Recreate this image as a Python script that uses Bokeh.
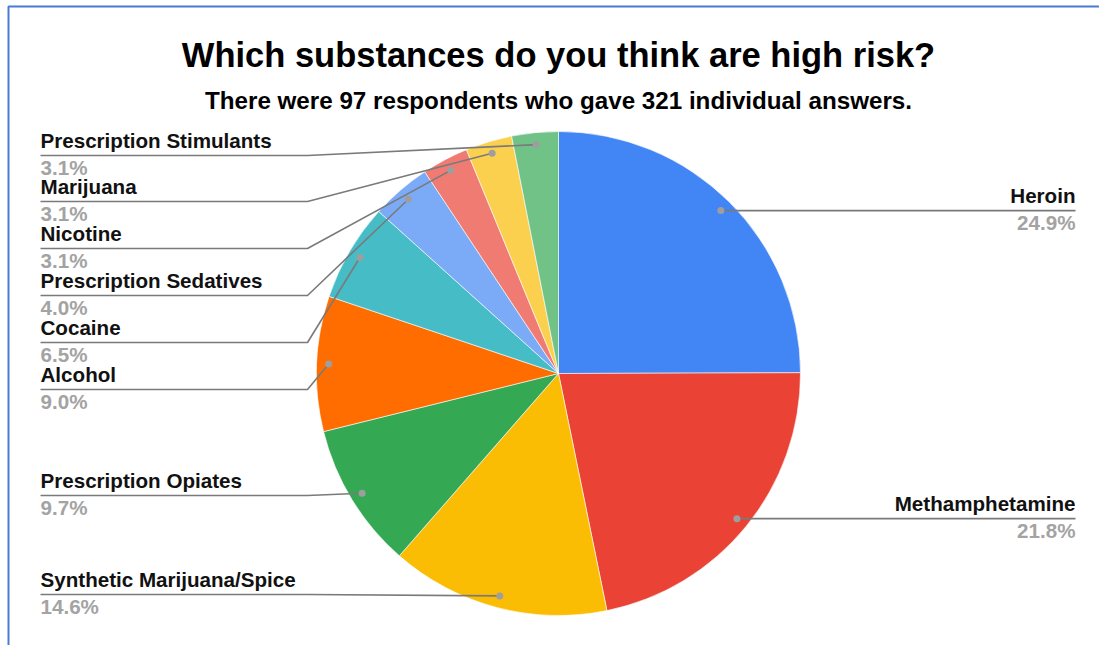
import numpy as np
from bokeh.plotting import figure
from bokeh.models import Range1d, ColumnDataSource
from bokeh.core.properties import value
from bokeh.embed import file_html
from bokeh.resources import INLINE

# Survey answers: share of all 321 answers, in %
substances = [
    "Heroin",
    "Methamphetamine",
    "Synthetic Marijuana/Spice",
    "Prescription Opiates",
    "Alcohol",
    "Cocaine",
    "Prescription Sedatives",
    "Nicotine",
    "Marijuana",
    "Prescription Stimulants",
]
shares = [24.9, 21.8, 14.6, 9.7, 9.0, 6.5, 4.0, 3.1, 3.1, 3.1]
slice_colors = [
    "#4285f4", "#ea4335", "#fbbc04", "#34a853", "#ff6d01",
    "#46bdc6", "#7baaf7", "#f07b72", "#fcd04f", "#71c287",
]

title_text = "Which substances do you think are high risk?"
subtitle_text = "There were 97 respondents who gave 321 individual answers."

W, H = 1099, 645
FONT = value("Liberation Sans")


def sy(y_px):
    """Convert a top-down pixel offset into the y-up data range."""
    return H - y_px


p = figure(width=W, height=H, x_range=Range1d(0, W), y_range=Range1d(0, H),
           output_backend="svg", toolbar_location=None, min_border=0,
           x_axis_type=None, y_axis_type=None)
p.outline_line_color = None
p.background_fill_color = "white"
p.border_fill_color = "white"

# pie geometry
cx, cy = 558, sy(373)
R = 242
r_dot = 230

frac = np.array(shares) / sum(shares)
c1 = np.cumsum(frac)
c0 = c1 - frac
start = np.pi / 2 - 2 * np.pi * c1
end = np.pi / 2 - 2 * np.pi * c0
theta = 2 * np.pi * (c0 + c1) / 2
dot_x = cx + r_dot * np.sin(theta)
dot_y = cy + r_dot * np.cos(theta)

pie = ColumnDataSource(dict(start=start, end=end, color=slice_colors, name=substances))
p.wedge(x=cx, y=cy, radius=R, radius_units="screen", start_angle="start",
        end_angle="end", fill_color="color", line_color="white", line_width=0.6,
        source=pie)

# label layout: right side labels sit at the dot height, left side are stacked
left_line_y = {
    "Synthetic Marijuana/Spice": 594,
    "Prescription Opiates": 495,
    "Alcohol": 389,
    "Cocaine": 342,
    "Prescription Sedatives": 295,
    "Nicotine": 248,
    "Marijuana": 201,
    "Prescription Stimulants": 155,
}
left_x, elbow_x, right_x = 40, 307, 1075

xs, ys = [], []
name_x, name_y, name_t, name_align = [], [], [], []
pct_y, pct_t = [], []
for i, name in enumerate(substances):
    pct = f"{shares[i]:.1f}%"
    if dot_x[i] > cx:
        ly = dot_y[i]
        xs.append([dot_x[i], right_x])
        ys.append([ly, ly])
        name_x.append(right_x)
        name_align.append("right")
    else:
        ly = sy(left_line_y[name])
        xs.append([left_x, elbow_x, dot_x[i]])
        ys.append([ly, ly, dot_y[i]])
        name_x.append(left_x)
        name_align.append("left")
    name_y.append(ly + 15)
    pct_y.append(ly - 12)
    name_t.append(name)
    pct_t.append(pct)

p.multi_line(xs=xs, ys=ys, line_color="#7a7a7a", line_width=1.6)
p.scatter(x=dot_x, y=dot_y, size=7, fill_color="#9e9e9e", line_color=None)

labels = ColumnDataSource(dict(x=name_x, ny=name_y, py=pct_y, name=name_t,
                               pct=pct_t, align=name_align))
p.text(x="x", y="ny", text="name", text_align="align", text_baseline="alphabetic",
       text_font=FONT, text_font_style="bold", text_font_size="20.6px",
       text_color="#111111", source=labels)
p.text(x="x", y="py", text="pct", text_align="align", text_baseline="alphabetic",
       text_font=FONT, text_font_style="bold", text_font_size="20.6px",
       text_color="#a3a3a3", source=labels)

# titles
p.text(x=[cx], y=[sy(54)], text=[title_text], text_align="center",
       text_baseline="alphabetic", text_font=FONT, text_font_style="bold",
       text_font_size="34.5px", text_color="#000000")
p.text(x=[cx], y=[sy(100)], text=[subtitle_text], text_align="center",
       text_baseline="alphabetic", text_font=FONT, text_font_style="bold",
       text_font_size="24.2px", text_color="#000000")

# chart frame (top and left edges)
p.line(x=[8, 8, W], y=[0, sy(6), sy(6)], line_color="#4a7bd4", line_width=2)

open("out.html", "w").write(file_html(p, INLINE))
